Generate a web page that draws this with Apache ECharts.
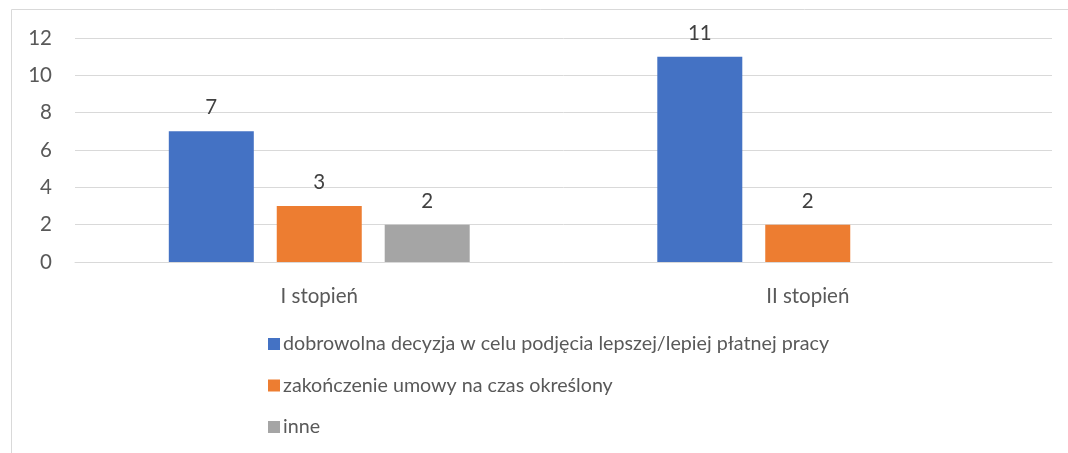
<!DOCTYPE html>
<html><head><meta charset="utf-8">
<script src="https://cdn.jsdelivr.net/npm/echarts@6/dist/echarts.min.js"></script>
<style>html,body{margin:0;padding:0;background:#fff}#c{width:1068px;height:453px}</style>
</head><body><div id="c"></div>
<script>
const categories = ["I stopień", "II stopień"];
const seriesNames = ["dobrowolna decyzja w celu podjęcia lepszej/lepiej płatnej pracy", "zakończenie umowy na czas określony", "inne"];
const dobrowolna = [7, 11];
const zakonczenie = [3, 2];
const inne = [2, null];
const yTicks = [0, 2, 4, 6, 8, 10, 12];
const colors = ["#4472C4", "#ED7D31", "#A5A5A5"];
const FONT = "Lato, 'Open Sans', sans-serif";
const chart = echarts.init(document.getElementById('c'));
const values = [dobrowolna, zakonczenie, inne];
chart.setOption({
  animation: false,
  textStyle: {fontFamily: FONT},
  graphic: [{type: 'rect', shape: {x: 11.5, y: 9.5, width: 1070, height: 460}, style: {fill: 'none', stroke: '#d9d9d9', lineWidth: 1}, silent: true}],
  grid: {left: 75, right: 16, top: 38, bottom: 191, containLabel: false},
  legend: {
    orient: 'vertical', left: 263, top: 329, itemGap: 21.5, itemWidth: 12, itemHeight: 12, icon: 'rect',
    textStyle: {fontFamily: FONT, fontSize: 19.7, color: '#595959', padding: [0, 0, 0, -2]},
    data: seriesNames
  },
  xAxis: {
    type: 'category', data: categories,
    axisLine: {lineStyle: {color: '#d9d9d9', width: 1}}, axisTick: {show: false},
    axisLabel: {fontFamily: FONT, fontSize: 20.5, color: '#595959', margin: 24}
  },
  yAxis: {
    type: 'value', min: yTicks[0], max: yTicks[yTicks.length - 1], interval: 2,
    axisLine: {show: false}, axisTick: {show: false},
    splitLine: {lineStyle: {color: '#d9d9d9', width: 1}},
    axisLabel: {fontFamily: FONT, fontSize: 20.5, color: '#595959', margin: 23}
  },
  series: seriesNames.map((n, i) => ({
    name: n, type: 'bar', data: values[i], barWidth: 85, barGap: '27%',
    itemStyle: {color: colors[i]},
    label: {show: true, position: 'top', distance: 13, fontFamily: FONT, fontSize: 20.5, color: '#404040'}
  }))
});
</script></body></html>
